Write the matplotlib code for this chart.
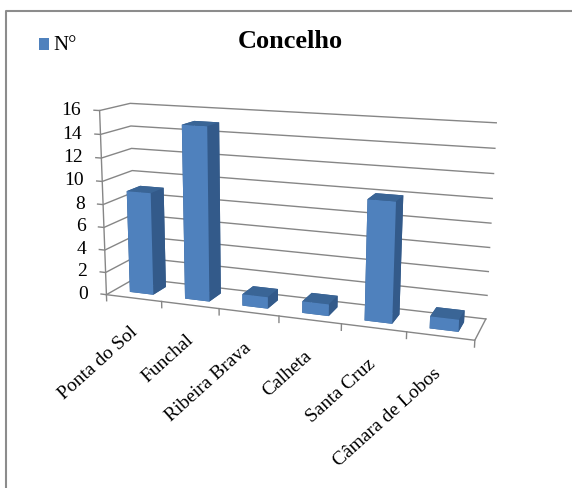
import numpy as np
import matplotlib
matplotlib.use("Agg")
import matplotlib.pyplot as plt
from mpl_toolkits.mplot3d import proj3d

plt.rcParams['font.family'] = ['Liberation Serif', 'DejaVu Serif']

categories = ["Ponta do Sol", "Funchal", "Ribeira Brava", "Calheta", "Santa Cruz", "Câmara de Lobos"]
values = [9, 15, 1, 1, 10, 1]
yticks = list(range(0, 17, 2))

W, H = 572, 488
fig = plt.figure(figsize=(W/100, H/100), dpi=100)

# camera and box fitted to the corners of the chart walls
size = 426.6
ax = fig.add_axes([71.4/W, 55.4/H, size/W, size/H], projection='3d', computed_zorder=False)
ax.view_init(13.225, -70.388, -0.371)
ax.set_proj_type('persp', focal_length=0.438)
ax.set_box_aspect((1, 0.165, 0.502))
ax.set_axis_off()
ax.set_xlim(0, 6)
ax.set_ylim(0, 1)
ax.set_zlim(0, 16)


def to_2d(x, y, z):
    x2, y2, _ = proj3d.proj_transform(np.array([x]), np.array([y]), np.array([z]), ax.get_proj())
    return x2[0], y2[0]


# walls and ticks
line = dict(color='#868686', lw=1.0, zorder=1)
for v in yticks:
    ax.plot([-0.1, 0, 0, 6], [0, 0, 1, 1], [v, v, v, v], **line)
    xd, yd = ax.transData.transform(to_2d(-0.1, 0, v))
    fig.text((xd - 13)/W, yd/H, str(v), ha='right', va='center', fontsize=14)
ax.plot([0, 0], [0, 0], [-0.55, 16], **line)
ax.plot([0, 6, 6], [0, 0, 1], [0, 0, 0], **line)
for i in range(1, 7):
    ax.plot([i, i], [0, 0], [0, -0.55], **line)

# bars
front, side, top = '#4F81BD', '#335A8A', '#3A6596'
for i, v in enumerate(values):
    ax.bar3d(i + 0.285, 0.27, 0, 0.43, 0.46, v,
             color=[top, top, front, side, side, side],
             shade=False, linewidth=0, zorder=2 + i)
ax.set_xlim(0, 6)
ax.set_ylim(0, 1)
ax.set_zlim(0, 16)

# category labels
for i, c in enumerate(categories):
    x2, y2 = to_2d(i + 0.5, 0, -2.9)
    ax.text2D(x2, y2, c, transform=ax.transData, rotation=42, ha='right', va='center',
              rotation_mode='anchor', fontsize=14)

fig.text(0.508, 1 - 41/H, "Concelho", ha='center', va='center', fontsize=19, fontweight='bold')
fig.text(53/W, 1 - 45/H, "N°", ha='left', va='center', fontsize=15)
fig.add_artist(plt.Rectangle((39/W, 1 - 50/H), 10/W, 12/H, transform=fig.transFigure, color=front, lw=0))
fig.add_artist(plt.Line2D([5.5/W, 5.5/W, 1], [0, 1 - 10.5/H, 1 - 10.5/H], color='#8c8c8c', lw=1.5))

fig.savefig("out.png", dpi=100)
